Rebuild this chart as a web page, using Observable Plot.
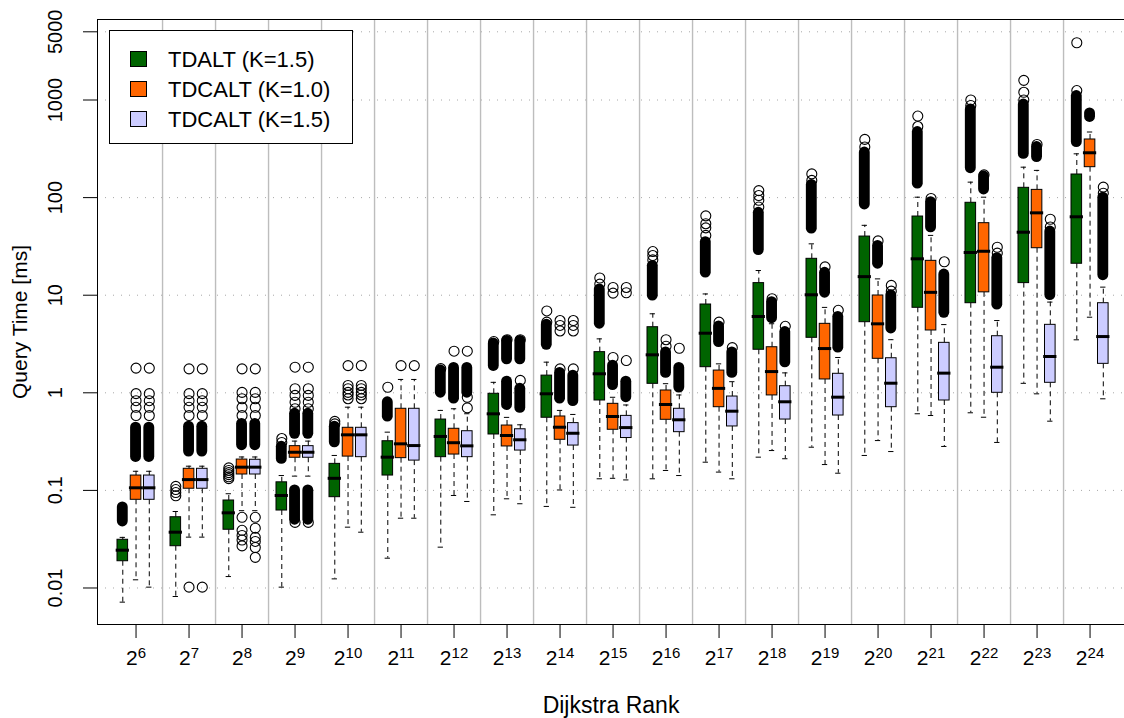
<!DOCTYPE html>
<html><head><meta charset="utf-8">
<script src="https://cdn.jsdelivr.net/npm/d3@7"></script>
<script src="https://cdn.jsdelivr.net/npm/@observablehq/plot@0.6"></script>
<style>html,body{margin:0;padding:0;background:#fff;} #chart{width:1124px;height:718px;overflow:hidden;}</style>
</head><body><div id="chart"></div>
<script>
// ---------- data ----------
const rankExp = [6,7,8,9,10,11,12,13,14,15,16,17,18,19,20,21,22,23,24];
const seriesNames = ["TDALT (K=1.5)", "TDCALT (K=1.0)", "TDCALT (K=1.5)"];
const seriesColors = ["#006400", "#ff6600", "#ccccff"];
const yTicks = [0.01, 0.1, 1, 10, 100, 1000, 5000];
const yTickLabels = ["0.01", "0.1", "1", "10", "100", "1000", "5000"];

// TDALT (K=1.5)
const tdaltQ1  = [0.0188,0.0268,0.0395,0.0622,0.0852,0.142,0.219,0.374,0.555,0.834,1.236,1.83,2.76,3.66,5.29,7.43,8.28,13.3,21];
const tdaltMed = [0.0244,0.0373,0.0589,0.0887,0.133,0.219,0.357,0.609,0.977,1.566,2.45,4.08,6.05,10.1,15.5,23.6,27.4,44.2,63.6];
const tdaltQ3  = [0.0312,0.0531,0.0788,0.121,0.187,0.319,0.532,0.977,1.50,2.61,4.7,8.03,13.3,23.6,39.9,64,88.5,126,172.5];
const tdaltLo  = [0.00716,0.00818,0.0131,0.0102,0.0124,0.0202,0.0262,0.0562,0.0685,0.1315,0.1315,0.1945,0.219,0.277,0.228,0.61,0.624,1.25,3.49];
const tdaltHi  = [0.033,0.0608,0.0924,0.142,0.228,0.395,0.66,1.28,2.06,3.57,6.45,10.3,17.9,33.6,52,101,144,205,281];
const tdaltBands = [[[0.048,0.067]],[],[],[[0.21,0.28]],[[0.31,0.45]],[[0.57,0.8]],[[1.0,1.7]],[[1.88,3.2]],[[3.1,5.0]],[[5.1,11.5]],[[9.9,20]],[[17,35]],[[29,70]],[[48,135]],[[85,290]],[[139,470]],[[200,800]],[[280,900]],[[370,1100]]];
const tdaltOut = [[],[0.088,0.095,0.102,0.11],[0.132,0.138,0.145,0.152,0.16,0.17],[0.31,0.34],[0.48,0.51],[1.14],[1.77],[3.35],[5.3,6.9],[13,15],[23,25.5,28],[41,49,54,65],[80,94,105,118],[150,175],[330,395],[535,685],[880,1000],[1000,1200,1590],[1250,3860]];

// TDCALT (K=1.0)
const tdc10Q1  = [0.0801,0.104,0.1455,0.216,0.222,0.214,0.233,0.282,0.33,0.418,0.529,0.712,0.94,1.37,2.23,4.35,10.7,30.3,205];
const tdc10Med = [0.1063,0.129,0.173,0.246,0.371,0.30,0.308,0.365,0.444,0.572,0.759,1.11,1.65,2.84,5.09,10.7,28.2,69.8,288];
const tdc10Q3  = [0.142,0.1665,0.207,0.284,0.438,0.686,0.428,0.462,0.572,0.771,1.056,1.69,2.93,5.09,9.93,22.5,54.7,120,394];
const tdc10Lo  = [0.01213,0.0332,0.062,0.14,0.042,0.0519,0.0887,0.082,0.101,0.133,0.16,0.154,0.256,0.184,0.324,0.585,0.562,0.976,5.95];
const tdc10Hi  = [0.157,0.177,0.22,0.32,0.712,1.37,0.686,0.56,0.66,0.9,1.24,1.98,5.1,7.5,14.7,41,101,190,470];
const tdc10Bands = [[[0.22,0.44]],[[0.25,0.45]],[[0.29,0.48]],[[0.05,0.1],[0.38,0.61]],[],[],[[0.87,1.8]],[[0.75,1.3],[2.2,3.4]],[[0.87,1.6]],[[1.2,1.9]],[[1.6,2.6]],[[3.3,4.8]],[[5.8,8.5]],[[10.6,17]],[[21,32]],[[49.5,90]],[[121,165]],[[260,330]],[[670,730]]];
const tdc10Out = [[0.585,0.71,0.83,0.98,1.79],[0.0102,0.585,0.71,0.83,0.98,1.76],[0.027,0.031,0.0345,0.039,0.053,0.585,0.71,0.87,1.01,1.76],[0.047,0.686,0.8,0.94,1.1,1.83],[0.87,0.95,1.01,1.1,1.19,1.9],[1.9],[2.67],[3.5],[1.76,4.3,4.9,5.5],[2.3,10.5,12],[3.0,3.5],[5.3],[9.2],[19.5],[36],[98],[171],[350],[]];

// TDCALT (K=1.5)
const tdc15Q1  = [0.0801,0.104,0.1455,0.216,0.219,0.202,0.219,0.256,0.288,0.344,0.395,0.452,0.532,0.585,0.712,0.834,1.0,1.266,1.98];
const tdc15Med = [0.1063,0.129,0.173,0.246,0.371,0.288,0.286,0.33,0.385,0.44,0.529,0.648,0.809,0.902,1.254,1.59,1.83,2.355,3.77];
const tdc15Q3  = [0.142,0.1665,0.206,0.284,0.438,0.686,0.404,0.423,0.489,0.58,0.686,0.916,1.168,1.566,2.26,3.25,3.8,4.97,8.28];
const tdc15Lo  = [0.0102,0.0332,0.062,0.14,0.0373,0.0519,0.077,0.073,0.0671,0.128,0.142,0.1315,0.211,0.15,0.25,0.282,0.31,0.512,0.868];
const tdc15Hi  = [0.157,0.177,0.22,0.32,0.712,1.37,0.61,0.47,0.6,0.75,0.95,1.3,1.6,2.3,3.5,5,5.5,8.5,12.1];
const tdc15Bands = [[[0.22,0.44]],[[0.25,0.45]],[[0.29,0.48]],[[0.05,0.1],[0.38,0.61]],[],[],[[1.0,1.8]],[[0.7,1.1],[2.2,3.4]],[[0.82,1.5]],[[0.9,1.3]],[[1.13,1.8]],[[1.6,2.6]],[[2.05,4.2]],[[2.9,6]],[[4.56,10]],[[6.6,16.3]],[[8,24]],[[10,45]],[[16,100]]];
const tdc15Out = [[0.585,0.71,0.83,0.98,1.79],[0.0102,0.585,0.71,0.83,0.98,1.76],[0.0206,0.026,0.03,0.033,0.041,0.053,0.585,0.71,0.87,1.01,1.76],[0.047,0.686,0.8,0.94,1.1,1.83],[0.87,0.95,1.01,1.1,1.19,1.9],[1.9],[0.7,0.9,2.67],[1.34,3.5],[1.76,4.3,4.9,5.5],[2.14,10.6,12],[2.86],[2.9],[4.8],[7],[11,12.6],[22],[27,31],[50,60],[111,128]];

// ---------- build tables ----------
const stats = [
  {q1: tdaltQ1, med: tdaltMed, q3: tdaltQ3, lo: tdaltLo, hi: tdaltHi, bands: tdaltBands, out: tdaltOut},
  {q1: tdc10Q1, med: tdc10Med, q3: tdc10Q3, lo: tdc10Lo, hi: tdc10Hi, bands: tdc10Bands, out: tdc10Out},
  {q1: tdc15Q1, med: tdc15Med, q3: tdc15Q3, lo: tdc15Lo, hi: tdc15Hi, bands: tdc15Bands, out: tdc15Out}
];
const boxes = [], bands = [], outs = [];
stats.forEach((st, s) => rankExp.forEach((e, g) => {
  const u = g * 4 + s;
  boxes.push({u, s, q1: st.q1[g], med: st.med[g], q3: st.q3[g], lo: st.lo[g], hi: st.hi[g]});
  st.bands[g].forEach(([a, b]) => bands.push({u, a, b}));
  st.out[g].forEach(v => outs.push({u, v}));
}));
const sepPos = rankExp.slice(0, -1).map((e, g) => g * 4 + 3);
const xTickPos = rankExp.map((e, g) => g * 4 + 1);
const xDomain = [-1.909, 75.60];
const yDomain = [0.004226, 6683];
const BW = 0.4, SW = 0.2, MW = 0.5, OW = 0.41;
const FONT = "'Liberation Sans', Arial, Helvetica, sans-serif";

const chart = Plot.plot({
  width: 1124, height: 718,
  marginLeft: 97, marginRight: 0, marginTop: 19, marginBottom: 94,
  x: {type: "linear", domain: xDomain, axis: null},
  y: {type: "log", domain: yDomain, axis: null},
  style: {fontFamily: FONT, fontSize: "20px", background: "white", color: "black"},
  marks: [
    Plot.ruleY(yTicks, {stroke: "#a8a8a8", strokeDasharray: "1,7"}),
    Plot.ruleX(sepPos, {stroke: "#bdbdbd", strokeWidth: 1.4}),
    Plot.ruleX(boxes, {x: "u", y1: "q3", y2: "hi", stroke: "black", strokeDasharray: "5,4"}),
    Plot.ruleX(boxes, {x: "u", y1: "q1", y2: "lo", stroke: "black", strokeDasharray: "5,4"}),
    Plot.ruleY(boxes, {y: "hi", x1: d => d.u - SW, x2: d => d.u + SW, stroke: "black"}),
    Plot.ruleY(boxes, {y: "lo", x1: d => d.u - SW, x2: d => d.u + SW, stroke: "black"}),
    Plot.rect(boxes, {x1: d => d.u - BW, x2: d => d.u + BW, y1: "q1", y2: "q3", fill: d => seriesColors[d.s], stroke: "black", strokeWidth: 1}),
    Plot.ruleY(boxes, {y: "med", x1: d => d.u - MW, x2: d => d.u + MW, stroke: "black", strokeWidth: 3}),
    Plot.rect(bands, {x1: d => d.u - OW, x2: d => d.u + OW, y1: "a", y2: "b", fill: "black", rx: 5.4, insetTop: -5.4, insetBottom: -5.4}),
    Plot.dot(outs, {x: "u", y: "v", r: 5, stroke: "black", strokeWidth: 1.1, fill: "none"}),
    Plot.ruleX([xDomain[0]], {stroke: "black"}),
    Plot.ruleY([yDomain[0], yDomain[1]], {stroke: "black"}),
    Plot.axisX(xTickPos, {tickSize: 14, tickPadding: 12, fontSize: 21, label: null,
      tickFormat: u => String(rankExp[(u - 1) / 4])}),
    Plot.axisY(yTicks, {tickSize: 14, tickFormat: () => "", label: null}),
    Plot.text(yTicks, {y: d => d, text: (d, i) => yTickLabels[i], frameAnchor: "left", dx: -42,
      rotate: -90, textAnchor: "middle", lineAnchor: "middle", fontSize: 20}),
    Plot.text(["Query Time [ms]"], {text: d => d, frameAnchor: "left", dx: -77, rotate: -90,
      textAnchor: "middle", lineAnchor: "middle", fontSize: 21}),
    Plot.text(["Dijkstra Rank"], {text: d => d, frameAnchor: "bottom", dy: 81,
      textAnchor: "middle", lineAnchor: "middle", fontSize: 23})
  ]
});
document.getElementById("chart").appendChild(chart);

// superscript exponents on the x tick labels
const NS = "http://www.w3.org/2000/svg";
chart.querySelectorAll('g[aria-label="x-axis tick label"] text').forEach(t => {
  const e = t.textContent;
  t.textContent = "2";
  const ts = document.createElementNS(NS, "tspan");
  ts.setAttribute("dy", "-7");
  ts.setAttribute("font-size", "15");
  ts.textContent = e;
  t.appendChild(ts);
});

// legend
const svg = d3.select(chart);
const lg = svg.append("g").attr("font-family", FONT).attr("text-anchor", "start");
lg.append("rect").attr("x", 109.5).attr("y", 30.5).attr("width", 243).attr("height", 113)
  .attr("fill", "white").attr("stroke", "black");
seriesNames.forEach((name, i) => {
  const cy = 59 + i * 30;
  lg.append("rect").attr("x", 130.5).attr("y", cy - 7.5).attr("width", 16).attr("height", 15)
    .attr("fill", seriesColors[i]).attr("stroke", "black");
  lg.append("text").attr("x", 168).attr("y", cy + 7.5).attr("font-size", 22)
    .attr("text-anchor", "start").attr("fill", "black").text(name);
});
</script>
</body></html>
